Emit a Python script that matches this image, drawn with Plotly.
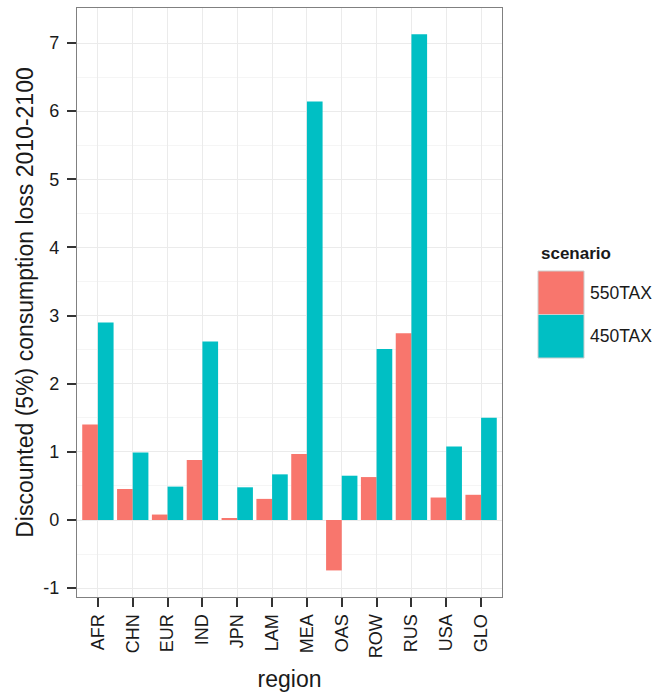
import plotly.graph_objects as go

regions = ["AFR", "CHN", "EUR", "IND", "JPN", "LAM", "MEA", "OAS", "ROW", "RUS", "USA", "GLO"]
tax550 = [1.40, 0.455, 0.08, 0.88, 0.02, 0.31, 0.97, -0.74, 0.63, 2.74, 0.33, 0.37]
tax450 = [2.90, 0.99, 0.49, 2.62, 0.48, 0.67, 6.14, 0.65, 2.51, 7.13, 1.08, 1.50]
scenarios = ["550TAX", "450TAX"]
colors = ["#F8766D", "#00BFC4"]
y_ticks = [-1, 0, 1, 2, 3, 4, 5, 6, 7]

FONT = "Liberation Sans, Arial, Helvetica, sans-serif"

fig = go.Figure()
for name, vals, col in zip(scenarios, [tax550, tax450], colors):
    fig.add_trace(go.Bar(x=regions, y=vals, name=name, marker=dict(color=col, line=dict(width=0)),
                         showlegend=False))

fig.update_layout(
    width=659, height=692,
    margin=dict(l=77, r=157, t=8, b=95, autoexpand=False),
    paper_bgcolor="white", plot_bgcolor="white",
    barmode="group", bargap=0.1, bargroupgap=0,
    font=dict(family=FONT, color="#1a1a1a"),
)
fig.update_xaxes(
    automargin=False,
    categoryorder="array", categoryarray=regions,
    range=[-0.6, len(regions) - 0.4],
    showgrid=True, gridcolor="#EBEBEB", gridwidth=1.3,
    showline=True, mirror=True, linecolor="#808080", linewidth=1.2,
    ticks="outside", ticklen=9, tickwidth=2, tickcolor="#333333",
    tickangle=-90, tickfont=dict(size=18, color="#1a1a1a"),
    title=dict(text="region", font=dict(size=23), standoff=16),
    zeroline=False,
)
fig.update_yaxes(
    automargin=False,
    range=[-1.13, 7.514],
    tickmode="array", tickvals=y_ticks, ticktext=[str(v) for v in y_ticks],
    showgrid=True, gridcolor="#EBEBEB", gridwidth=1.3,
    minor=dict(tickmode="linear", tick0=-0.5, dtick=1, showgrid=True, gridcolor="#F5F5F5", gridwidth=1, ticks=""),
    showline=True, mirror=True, linecolor="#808080", linewidth=1.2,
    ticks="outside", ticklen=9, tickwidth=2, tickcolor="#333333",
    ticklabelstandoff=4,
    tickfont=dict(size=18, color="#1a1a1a"),
    title=dict(text="Discounted (5%) consumption loss 2010-2100", font=dict(size=23), standoff=3),
    zeroline=False,
)

# custom legend (ggplot style, large keys)
pl, pr, pt, pb = 77, 659 - 157, 8, 692 - 95

def px_x(x):
    return (x - pl) / (pr - pl)

def px_y(y):
    return (pb - y) / (pb - pt)

fig.add_annotation(text="<b>scenario</b>", xref="paper", yref="paper",
                   x=px_x(539), y=px_y(254), xanchor="left", yanchor="middle",
                   showarrow=False, font=dict(size=17, color="#1a1a1a"))
key_top = 271
key_h = 43.5
for i, (name, col) in enumerate(zip(scenarios, colors)):
    y0 = key_top + i * key_h
    fig.add_shape(type="rect", xref="paper", yref="paper",
                  x0=px_x(538), x1=px_x(584), y0=px_y(y0 + key_h), y1=px_y(y0),
                  fillcolor=col, line=dict(color="#CCCCCC", width=1))
    fig.add_annotation(text=name, xref="paper", yref="paper",
                       x=px_x(588), y=px_y(y0 + key_h / 2), xanchor="left", yanchor="middle",
                       showarrow=False, font=dict(size=17.5, color="#1a1a1a"))

fig.write_html("out.html", config={"displayModeBar": False},
               post_script="document.body.style.margin='0';")
